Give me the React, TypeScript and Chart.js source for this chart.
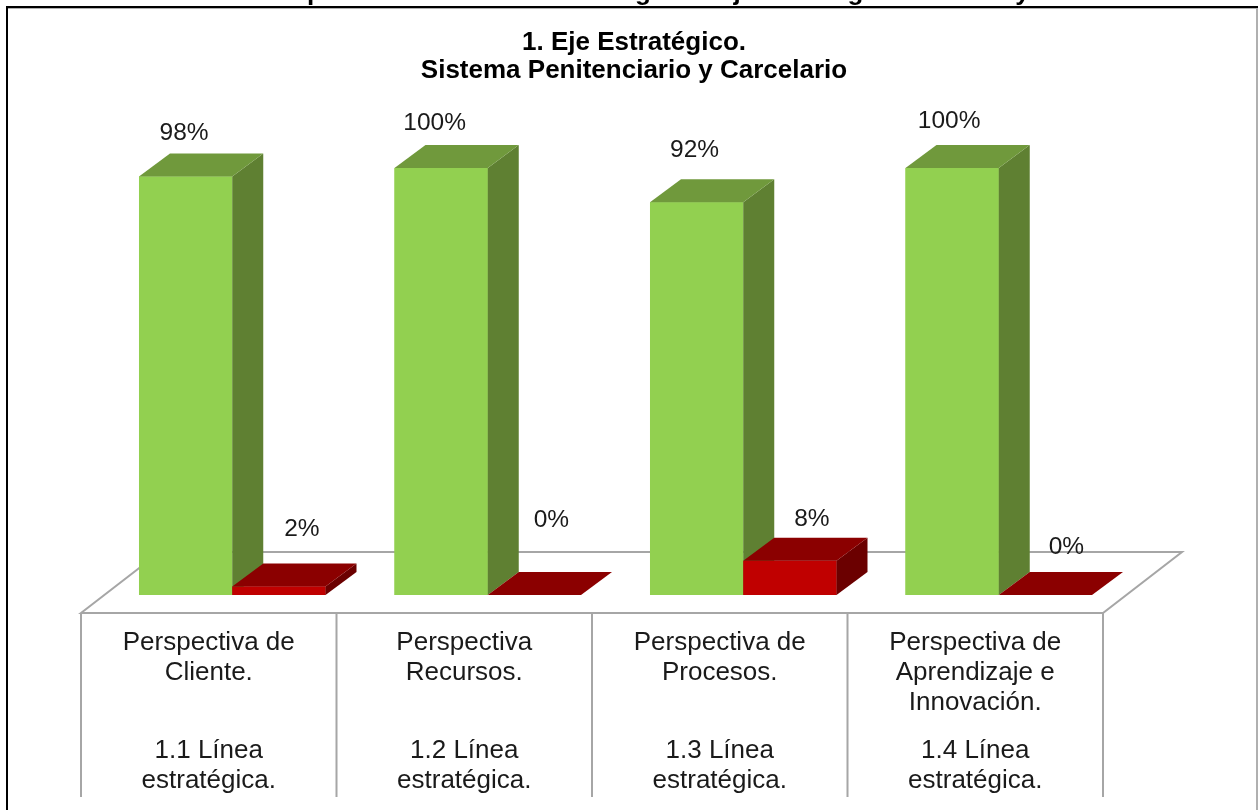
import React, { useEffect, useRef } from "react";
import { Chart, registerables } from "chart.js";

Chart.register(...registerables);

const chartTitle = ["1. Eje Estratégico.", "Sistema Penitenciario y Carcelario"];
const pageHeading = "Gráfica 3. Índice de cumplimiento de metas estratégicas. Eje estratégico Sistema y Carcelario";
const perspectives = [
  ["Perspectiva de", "Cliente."],
  ["Perspectiva", "Recursos."],
  ["Perspectiva de", "Procesos."],
  ["Perspectiva de", "Aprendizaje e", "Innovación."],
];
const lines = [
  ["1.1 Línea", "estratégica."],
  ["1.2 Línea", "estratégica."],
  ["1.3 Línea", "estratégica."],
  ["1.4 Línea", "estratégica."],
];
const cumplido = [98, 100, 92, 100];
const pendiente = [2, 0, 8, 0];

// Hand-placed label nudges of the original, [dx, dy] from the bar's top centre.
const labelNudges = [
  [[-1.5, -43], [-6.5, -45], [-2, -52], [-3, -47]],
  [[23, -57], [17, -75], [22, -42], [21, -48]],
];

const DEPTH_X = 31;
const DEPTH_Y = 23;
const SHIFT = 23.5;
const FLOOR_Y = 613;
const FLOOR_BACK_Y = 552;
const FLOOR_DX = 79;
const GRID_BOTTOM = 797;
const GRID = "#A6A6A6";
const FONT = "Liberation Sans, Arial, sans-serif";
const FACES = [
  { front: "#92D050", side: "#5F8032", top: "#70993C" },
  { front: "#C00000", side: "#6B0000", top: "#8B0000" },
];

function poly(ctx: CanvasRenderingContext2D, pts: number[][], fill: string) {
  ctx.beginPath();
  pts.forEach(([x, y], i) => (i ? ctx.lineTo(x, y) : ctx.moveTo(x, y)));
  ctx.closePath();
  ctx.fillStyle = fill;
  ctx.fill();
}

const scenePlugin = {
  id: "scene",
  beforeDraw(chart: any) {
    const { ctx, canvas } = chart;
    ctx.save();
    ctx.fillStyle = "#fff";
    ctx.fillRect(0, 0, canvas.width, canvas.height);
    ctx.fillStyle = "#000";
    ctx.font = `bold 26px ${FONT}`;
    ctx.textBaseline = "alphabetic";
    ctx.textAlign = "left";
    ctx.fillText(pageHeading, 8, 0);
    ctx.fillStyle = "#000";
    ctx.fillRect(6, 6, 2, 804);
    ctx.fillRect(6, 6, 1252, 2);
    ctx.fillStyle = "#B0B0B0";
    ctx.fillRect(8, 8, 1250, 1);
    ctx.fillRect(1256, 8, 2, 802);
    ctx.restore();
  },
  beforeDatasetsDraw(chart: any) {
    const { ctx, scales } = chart;
    const n = scales.x.ticks.length;
    const left = chart.chartArea.left - SHIFT;
    const right = chart.chartArea.right - SHIFT;
    const step = (right - left) / n;
    ctx.save();
    ctx.strokeStyle = GRID;
    ctx.lineWidth = 2;
    ctx.beginPath();
    ctx.moveTo(left, FLOOR_Y);
    ctx.lineTo(left + FLOOR_DX, FLOOR_BACK_Y);
    ctx.lineTo(right + FLOOR_DX, FLOOR_BACK_Y);
    ctx.lineTo(right, FLOOR_Y);
    ctx.closePath();
    ctx.stroke();
    ctx.beginPath();
    for (let i = 0; i <= n; i++) {
      ctx.moveTo(left + i * step, FLOOR_Y);
      ctx.lineTo(left + i * step, GRID_BOTTOM);
    }
    ctx.stroke();
    ctx.restore();
  },
  afterDatasetsDraw(chart: any) {
    const { ctx } = chart;
    ctx.save();
    const n = chart.data.labels.length;
    for (let i = 0; i < n; i++) {
      chart.data.datasets.forEach((_: any, d: number) => {
        const bar = chart.getDatasetMeta(d).data[i];
        const f = FACES[d];
        const half = bar.width / 2;
        const l = bar.x - half;
        const r = bar.x + half;
        const t = bar.y;
        const b = bar.base;
        poly(ctx, [[l, t], [r, t], [r, b], [l, b]], f.front);
        poly(ctx, [[r, t], [r + DEPTH_X, t - DEPTH_Y], [r + DEPTH_X, b - DEPTH_Y], [r, b]], f.side);
        poly(ctx, [[l, t], [r, t], [r + DEPTH_X, t - DEPTH_Y], [l + DEPTH_X, t - DEPTH_Y]], f.top);
      });
    }
    ctx.fillStyle = "#1a1a1a";
    ctx.font = `24.5px ${FONT}`;
    ctx.textAlign = "center";
    ctx.textBaseline = "middle";
    chart.data.datasets.forEach((ds: any, d: number) => {
      chart.getDatasetMeta(d).data.forEach((bar: any, i: number) => {
        const [dx, dy] = labelNudges[d][i];
        ctx.fillText(`${ds.data[i]}%`, bar.x + dx, bar.y + dy);
      });
    });
    ctx.restore();
  },
};

const hiddenY = (position: string, width: number, extra: object = {}) => ({
  type: "linear",
  position,
  min: 0,
  max: 100,
  grid: { display: false },
  border: { display: false },
  ticks: { display: false },
  afterFit(s: any) {
    s.width = width;
  },
  ...extra,
});

const categoryAxis = (height: number, padding: number, labels: string[][], weight: number) => ({
  type: "category",
  labels,
  offset: true,
  weight,
  grid: { display: false, drawTicks: false },
  border: { display: false },
  ticks: {
    autoSkip: false,
    maxRotation: 0,
    minRotation: 0,
    padding,
    labelOffset: -SHIFT,
    color: "#1a1a1a",
    font: { family: FONT, size: 26, lineHeight: 30 / 26 },
  },
  afterFit(s: any) {
    s.height = height;
  },
});

export default function App() {
  const ref = useRef<HTMLCanvasElement>(null);
  useEffect(() => {
    const chart = new Chart(ref.current as HTMLCanvasElement, {
      type: "bar",
      data: {
        labels: perspectives as any,
        datasets: [
          { label: "Cumplido", data: cumplido, backgroundColor: FACES[0].front, yAxisID: "y", xAxisID: "x" },
          { label: "Pendiente", data: pendiente, backgroundColor: FACES[1].front, yAxisID: "y", xAxisID: "x" },
        ],
      },
      options: {
        responsive: false,
        animation: false,
        layout: { padding: { left: 10, right: 0, top: 0, bottom: 0 } },
        datasets: { bar: { categoryPercentage: 0.73, barPercentage: 1 } },
        plugins: {
          legend: { display: false },
          tooltip: { enabled: false },
          title: {
            display: true,
            text: chartTitle,
            color: "#000",
            font: { family: FONT, size: 26, weight: "bold", lineHeight: 28 / 26 },
            padding: { top: 29, bottom: 83 },
          },
        },
        scales: {
          x: categoryAxis(140, 33, perspectives as any, 0),
          x2: categoryAxis(75, 1, lines as any, 1),
          y: hiddenY("left", 94.5),
          y2: hiddenY("right", 131.5),
        } as any,
      } as any,
      plugins: [scenePlugin],
    });
    return () => chart.destroy();
  }, []);
  return (
    <div style={{ position: "absolute", left: 0, top: 0 }}>
      <canvas ref={ref} width={1258} height={810} style={{ display: "block" }} />
    </div>
  );
}
